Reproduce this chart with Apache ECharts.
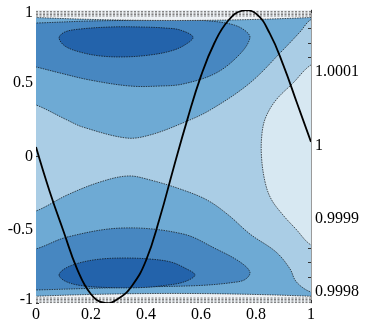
<!DOCTYPE html>
<html>
<head>
<meta charset="utf-8">
<script src="https://cdn.jsdelivr.net/npm/echarts@6/dist/echarts.min.js"></script>
<style>
  html, body { margin: 0; padding: 0; background: #fff; }
  #chart { width: 366px; height: 325px; }
</style>
</head>
<body>
<div id="chart"></div>
<script>
// axis ticks
var xTicks = [0, 0.2, 0.4, 0.6, 0.8, 1];
var rightLabels = [0.9998, 0.9999, 1, 1.0001];
var rightTicks = [0.9998, 0.99982, 0.99984, 0.99986, 0.99988, 0.9999, 0.99992, 0.99994, 0.99996, 0.99998, 1,
  1.00002, 1.00004, 1.00006, 1.00008, 1.0001, 1.00012, 1.00014, 1.00016, 1.00018];

// black curve
var curveX = [0, 0.05, 0.1, 0.15, 0.2, 0.25, 0.3, 0.35, 0.4, 0.45, 0.5, 0.55, 0.6, 0.65, 0.7, 0.75, 0.8, 0.85, 0.9, 0.95, 1];
var curveY = [0.065, -0.24, -0.51, -0.77, -0.94, -1.0, -0.97, -0.88, -0.71, -0.42, -0.08, 0.25, 0.55, 0.78, 0.93, 0.995, 0.975, 0.84, 0.62, 0.36, 0.1];

// contour bands (x, y)
var lightBlob = [[1.05, 0.64], [1, 0.625], [0.935, 0.502], [0.873, 0.386], [0.836, 0.27], [0.822, 0.16], [0.82, 0], [0.833, -0.174], [0.855, -0.29], [0.898, -0.399], [0.945, -0.495], [1, -0.604], [1.05, -0.62]];
var topBand = [[-0.05, 1.05], [1.05, 1.05], [1.05, 0.95], [1, 0.935], [0.96, 0.85], [0.898, 0.727], [0.778, 0.502], [0.633, 0.317], [0.535, 0.23], [0.415, 0.147], [0.33, 0.126], [0.17, 0.201], [0.113, 0.249], [0, 0.352], [-0.05, 0.37]];
var bottomBand = [[-0.05, -0.38], [0, -0.372], [0.113, -0.263], [0.233, -0.174], [0.335, -0.133], [0.415, -0.16], [0.535, -0.229], [0.625, -0.30], [0.7, -0.40], [0.778, -0.529], [0.873, -0.652], [0.924, -0.768], [0.942, -0.843], [0.967, -0.891], [1, -0.925], [1.05, -0.94], [1.05, -1.05], [-0.05, -1.05]];
var topMid = [[-0.05, 0.91], [0, 0.911], [0.2, 0.925], [0.4, 0.93], [0.535, 0.932], [0.633, 0.925], [0.716, 0.9], [0.76, 0.86], [0.778, 0.81], [0.742, 0.70], [0.655, 0.57], [0.535, 0.495], [0.451, 0.481], [0.342, 0.481], [0.196, 0.522], [0.087, 0.57], [0, 0.611], [-0.05, 0.63]];
var bottomMid = [[-0.05, -0.64], [0, -0.631], [0.113, -0.55], [0.316, -0.488], [0.535, -0.529], [0.655, -0.631], [0.742, -0.72], [0.778, -0.79], [0.76, -0.84], [0.716, -0.86], [0.6, -0.88], [0.4, -0.89], [0.2, -0.9], [0, -0.911], [-0.05, -0.911]];
var topCore = [[0.084, 0.81], [0.105, 0.85], [0.16, 0.87], [0.27, 0.884], [0.38, 0.884], [0.47, 0.877], [0.525, 0.863], [0.571, 0.815], [0.54, 0.76], [0.49, 0.72], [0.415, 0.693], [0.325, 0.68], [0.235, 0.686], [0.16, 0.713], [0.105, 0.754]];
var bottomCore = [[0.084, -0.809], [0.105, -0.765], [0.16, -0.725], [0.235, -0.70], [0.325, -0.693], [0.415, -0.70], [0.49, -0.72], [0.54, -0.76], [0.578, -0.809], [0.54, -0.855], [0.47, -0.88], [0.38, -0.895], [0.27, -0.895], [0.16, -0.88], [0.105, -0.85]];

// crowded contours along the top and bottom edges
var topEdge = [[-0.05, 0.953], [1.05, 0.953], [1.05, 1.05], [-0.05, 1.05]];
var bottomEdge = [[-0.05, -0.958], [1.05, -0.958], [1.05, -1.05], [-0.05, -1.05]];
var edgeLines = [0.99, 0.979, 0.969, 0.959, -0.966, -0.976, -0.986, -0.997];

var colors = ['#2363ab', '#4787c1', '#6eaad4', '#aacde5', '#d7e8f2'];
var font = 'Liberation Serif';

function clipRect(cs) {
  return { type: 'rect', shape: { x: cs.x, y: cs.y, width: cs.width, height: cs.height } };
}

function area(points, fill, z) {
  return {
    type: 'custom',
    coordinateSystem: 'cartesian2d',
    clip: true,
    silent: true,
    z: z,
    data: points,
    renderItem: function (params, api) {
      if (params.dataIndex !== 0) return null;
      var pts = points.map(function (p) { return api.coord(p); });
      return {
        type: 'group',
        clipPath: clipRect(params.coordSys),
        children: [{
          type: 'polygon',
          shape: { points: pts, smooth: 0.35 },
          style: { fill: fill, stroke: 'rgba(10,10,10,0.85)', lineWidth: 0.8, lineDash: [1.5, 1] }
        }]
      };
    }
  };
}

var curveData = curveX.map(function (x, i) { return [x, curveY[i]]; });

var myChart = echarts.init(document.getElementById('chart'));

var option = {
  animation: false,
  grid: { left: 36, right: 55, top: 10, bottom: 22, show: true, backgroundColor: colors[3], borderWidth: 0 },
  xAxis: [
    {
      type: 'value', min: 0, max: 1, interval: 0.2, position: 'bottom',
      axisLine: { show: false, onZero: false }, splitLine: { show: false },
      axisTick: { inside: true, length: 3, lineStyle: { color: '#333' } },
      axisLabel: { margin: 4, color: '#000', fontFamily: font, fontSize: 16,
        formatter: function (v) { return String(+v.toFixed(1)); } }
    },
    {
      type: 'value', min: 0, max: 1, interval: 0.2, position: 'top',
      axisLine: { show: false, onZero: false }, splitLine: { show: false },
      axisTick: { inside: true, length: 3, lineStyle: { color: '#333' } },
      axisLabel: { show: false }
    }
  ],
  yAxis: [
    {
      type: 'value', min: -1, max: 1, interval: 0.5, position: 'left',
      axisLine: { show: false, onZero: false }, splitLine: { show: false },
      axisTick: { inside: true, length: 3, lineStyle: { color: '#333' } },
      axisLabel: {
        margin: 3, color: '#000', fontFamily: font, fontSize: 16,
        formatter: function (v) {
          if (v === 1) return '{t|1}';
          if (v === -1) return '{b|-1}';
          return String(v);
        },
        rich: {
          t: { fontFamily: font, fontSize: 16, color: '#000', padding: [5, 0, 0, 0] },
          b: { fontFamily: font, fontSize: 16, color: '#000', padding: [0, 0, 7, 0] }
        }
      }
    },
    {
      type: 'value', min: 0.999785, max: 1.000185, position: 'right',
      axisLine: { show: true, onZero: false, lineStyle: { color: '#9a9a9a', width: 1 } },
      splitLine: { show: false },
      axisTick: { inside: true, length: 3, customValues: rightTicks, lineStyle: { color: '#333' } },
      axisLabel: {
        margin: 4, color: '#000', fontFamily: font, fontSize: 16,
        customValues: rightLabels,
        formatter: function (v) { return String(+v.toFixed(4)); }
      }
    }
  ],
  series: [
    area(lightBlob, colors[4], 1),
    area(topBand, colors[2], 2),
    area(bottomBand, colors[2], 2),
    area(topMid, colors[1], 3),
    area(bottomMid, colors[1], 3),
    area(topCore, colors[0], 4),
    area(bottomCore, colors[0], 4),
    area(topEdge, '#eef2f5', 5),
    area(bottomEdge, '#eef2f5', 5),
    {
      type: 'custom',
      coordinateSystem: 'cartesian2d',
      silent: true,
      z: 6,
      data: edgeLines.map(function (y) { return [0, y]; }),
      renderItem: function (params, api) {
        var y = api.value(1);
        var a = api.coord([0, y]);
        var b = api.coord([1, y]);
        return {
          type: 'line',
          shape: { x1: a[0], y1: a[1], x2: b[0], y2: b[1] },
          style: { stroke: '#7d7d7d', lineWidth: 1, lineDash: [2, 1.5] }
        };
      }
    },
    {
      // the black curve, smoothed without the line series' overshoot guard
      type: 'custom',
      coordinateSystem: 'cartesian2d',
      silent: true,
      z: 10,
      data: curveData,
      renderItem: function (params, api) {
        if (params.dataIndex !== 0) return null;
        var pts = curveData.map(function (p) { return api.coord(p); });
        return {
          type: 'group',
          clipPath: clipRect(params.coordSys),
          children: [{
            type: 'polyline',
            shape: { points: pts, smooth: 0.45 },
            style: { fill: null, stroke: '#000', lineWidth: 1.8 }
          }]
        };
      }
    }
  ]
};

myChart.setOption(option);
</script>
</body>
</html>
